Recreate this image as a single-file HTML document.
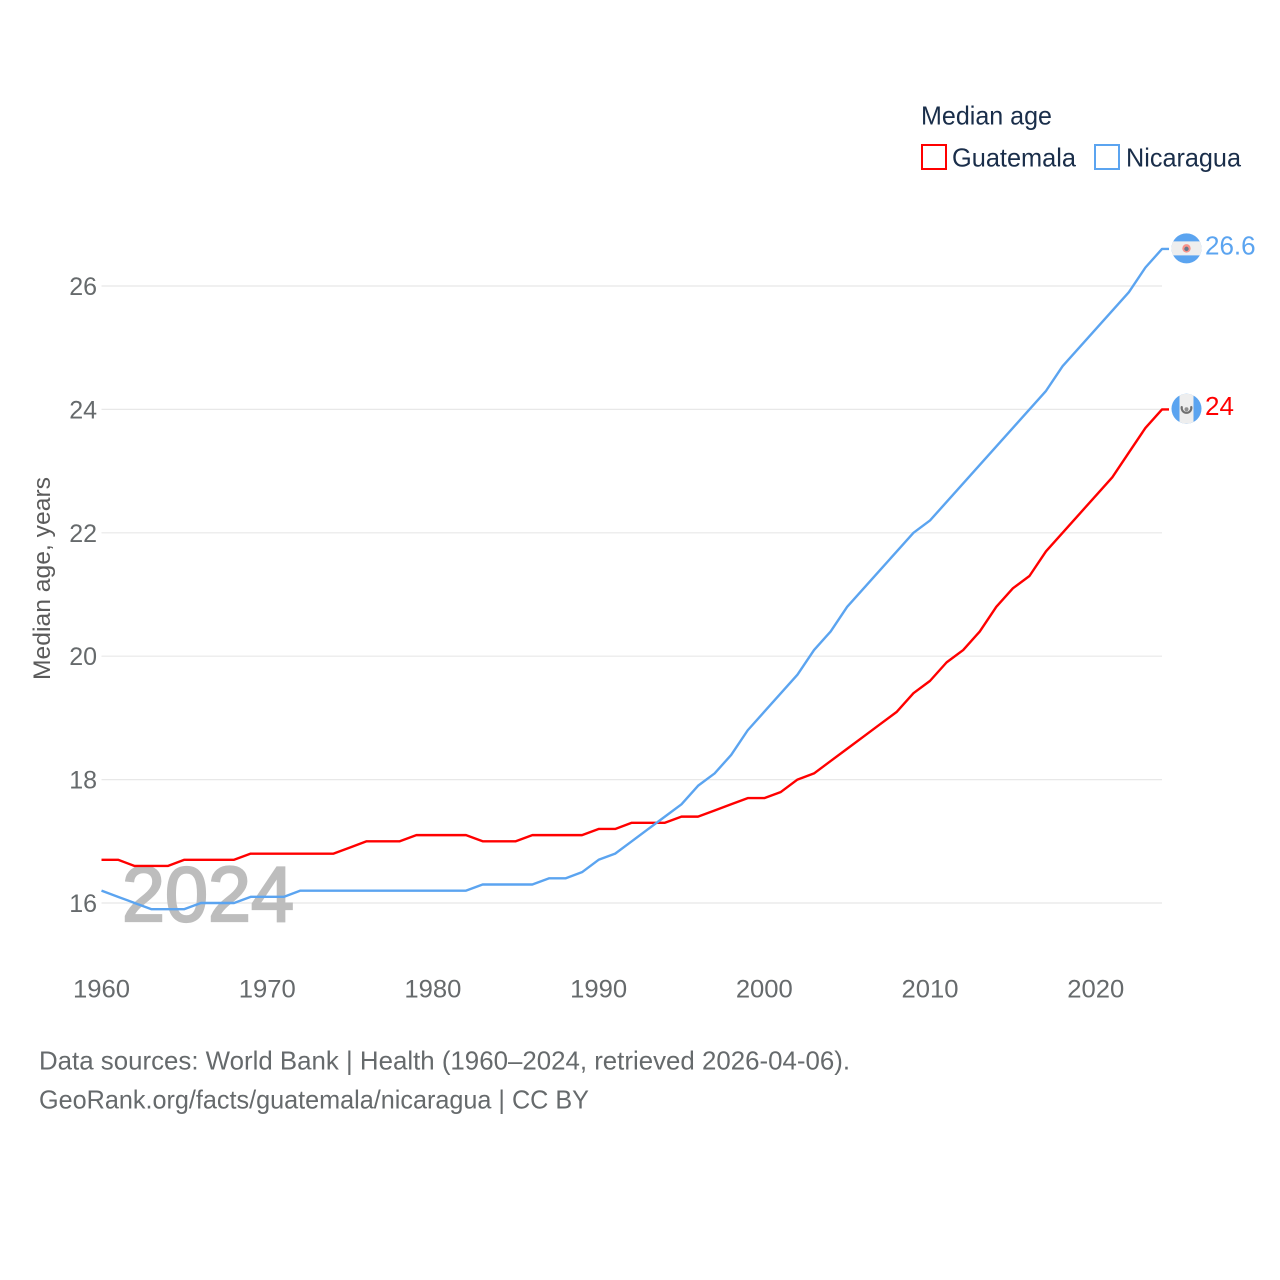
<!DOCTYPE html>
<html lang="en">
<head>
<meta charset="utf-8">
<title>Median age: Guatemala and Nicaragua</title>
<style>
html,body{margin:0;padding:0;background:#fff;}
svg{display:block;font-family:"Liberation Sans",sans-serif;}
</style>
</head>
<body>
<svg id="chart" xmlns="http://www.w3.org/2000/svg" width="1280" height="1280" viewBox="0 0 1280 1280">
  <rect x="0" y="0" width="1280" height="1280" fill="#ffffff"/>
  <g id="grid"></g>
  <text x="122" y="921" font-size="78" font-weight="400" fill="#bdbdbd" stroke="#bdbdbd" stroke-width="2.2" textLength="172" lengthAdjust="spacingAndGlyphs">2024</text>
  <g id="ylabels"></g>
  <g id="xlabels"></g>
  <text transform="translate(50 680) rotate(-90)" font-size="24" fill="#5b5b5b" textLength="203" lengthAdjust="spacingAndGlyphs">Median age, years</text>
  <g id="series"></g>

  <g>
    <text x="921" y="124.500" font-size="26" fill="#1a2e4a" textLength="131" lengthAdjust="spacingAndGlyphs">Median age</text>
    <g>
      <rect x="922" y="145" width="24" height="24" fill="#fff" stroke="#ff0000" stroke-width="2"/>
      <text x="952" y="166.500" font-size="26" fill="#1a2e4a" textLength="124" lengthAdjust="spacingAndGlyphs">Guatemala</text>
    </g>
    <g>
      <rect x="1095" y="145" width="24" height="24" fill="#fff" stroke="#5ba4f0" stroke-width="2"/>
      <text x="1126" y="166.500" font-size="26" fill="#1a2e4a" textLength="115" lengthAdjust="spacingAndGlyphs">Nicaragua</text>
    </g>
  </g>

  <g id="endmarks"></g>

  <text x="39" y="1069.500" font-size="26" fill="#666a6c" textLength="811" lengthAdjust="spacingAndGlyphs">Data sources: World Bank | Health (1960–2024, retrieved 2026-04-06).</text>
  <text x="39" y="1108.500" font-size="26" fill="#666a6c" textLength="550" lengthAdjust="spacingAndGlyphs">GeoRank.org/facts/guatemala/nicaragua | CC BY</text>
</svg>
<script>
const firstYear = 1960;
const lastYear = 2024;
const xTickLabels = [1960, 1970, 1980, 1990, 2000, 2010, 2020];
const yTickLabels = [16, 18, 20, 22, 24, 26];
const guatemalaValues = [16.7,16.7,16.6,16.6,16.6,16.7,16.7,16.7,16.7,16.8,16.8,16.8,16.8,16.8,16.8,16.9,17,17,17,17.1,17.1,17.1,17.1,17,17,17,17.1,17.1,17.1,17.1,17.2,17.2,17.3,17.3,17.3,17.4,17.4,17.5,17.6,17.7,17.7,17.8,18,18.1,18.3,18.5,18.7,18.9,19.1,19.4,19.6,19.9,20.1,20.4,20.8,21.1,21.3,21.7,22,22.3,22.6,22.9,23.3,23.7,24];
const nicaraguaValues = [16.2,16.1,16,15.9,15.9,15.9,16,16,16,16.1,16.1,16.1,16.2,16.2,16.2,16.2,16.2,16.2,16.2,16.2,16.2,16.2,16.2,16.3,16.3,16.3,16.3,16.4,16.4,16.5,16.7,16.8,17,17.2,17.4,17.6,17.9,18.1,18.4,18.8,19.1,19.4,19.7,20.1,20.4,20.8,21.1,21.4,21.7,22,22.2,22.5,22.8,23.1,23.4,23.7,24,24.3,24.7,25,25.3,25.6,25.9,26.3,26.6];

const NS = 'http://www.w3.org/2000/svg';
const plotLeft = 101.5, plotRight = 1162;
const y16 = 903, y26 = 286;
function xScale(year) { return plotLeft + (year - firstYear) * (plotRight - plotLeft) / (lastYear - firstYear); }
function yScale(v) { return y16 + (v - 16) * (y26 - y16) / 10; }
function make(tag, attrs, parent, text) {
  const el = document.createElementNS(NS, tag);
  for (const k in attrs) el.setAttribute(k, attrs[k]);
  if (text !== undefined) el.textContent = text;
  parent.appendChild(el);
  return el;
}

const grid = document.getElementById('grid');
const ylabels = document.getElementById('ylabels');
const xlabels = document.getElementById('xlabels');
const series = document.getElementById('series');
const endmarks = document.getElementById('endmarks');

yTickLabels.forEach(function (t) {
  const line = make('line', {x1: plotLeft, x2: plotRight, y1: yScale(t), y2: yScale(t), stroke: '#e8e8e8', 'stroke-width': 1.2}, grid);
  
  
  const label = make('text', {x: 97, y: yScale(t) + 9, 'text-anchor': 'end', 'font-size': 25, fill: '#666a6c'}, ylabels, String(t));
  
  
});

xTickLabels.forEach(function (t) {
  const label = make('text', {x: xScale(t), y: 997.5, 'text-anchor': 'middle', 'font-size': 25, fill: '#666a6c', textLength: 57, lengthAdjust: 'spacingAndGlyphs'}, xlabels, String(t));
  
  
});

function drawSeries(values, color, key) {
  const pts = values.map(function (v, i) { return xScale(firstYear + i).toFixed(2) + ',' + yScale(v).toFixed(2); });
  const lastY = yScale(values[values.length - 1]);
  pts.push((plotRight + 7) + ',' + lastY.toFixed(2));
  const line = make('polyline', {points: pts.join(' '), fill: 'none', stroke: color, 'stroke-width': 2.4, 'stroke-linejoin': 'round'}, series);
  
  
}
drawSeries(guatemalaValues, '#ff0000', 'guatemala');
drawSeries(nicaraguaValues, '#5ba4f0', 'nicaragua');

function drawEndMarker(value, color, key, kind) {
  const cy = yScale(value) - 0.6;
  const cx = 1186.5, r = 15;
  const flag = make('g', {}, endmarks);
  
  
  make('circle', {cx: cx, cy: cy, r: r, fill: '#5ba4f0'}, flag);
  const clipId = 'clip-' + key;
  const clip = make('clipPath', {id: clipId}, flag);
  make('circle', {cx: cx, cy: cy, r: r}, clip);
  if (kind === 'horizontal') {
    make('rect', {x: cx - r, y: cy - 7, width: 2 * r, height: 14, fill: '#eeeeee', 'clip-path': 'url(#' + clipId + ')'}, flag);
    make('circle', {cx: cx, cy: cy, r: 4.2, fill: '#f8938a'}, flag);
    make('circle', {cx: cx, cy: cy + 0.5, r: 2.2, fill: '#66788c'}, flag);
  } else {
    make('rect', {x: cx - 7, y: cy - r, width: 14, height: 2 * r, fill: '#eeeeee', 'clip-path': 'url(#' + clipId + ')'}, flag);
    make('path', {d: 'M' + (cx - 4.5) + ' ' + (cy - 2.5) + 'A4.8 4.8 0 1 0 ' + (cx + 4.5) + ' ' + (cy - 2.5), fill: 'none', stroke: '#707070', 'stroke-width': 2.2}, flag);
    make('circle', {cx: cx, cy: cy + 0.5, r: 2, fill: '#8f8f8f'}, flag);
  }
  const label = make('text', {x: 1205, y: cy + 6.2, 'font-size': 26, fill: color}, endmarks, String(value));
  
  
}
drawEndMarker(guatemalaValues[guatemalaValues.length - 1], '#ff0000', 'guatemala', 'vertical');
drawEndMarker(nicaraguaValues[nicaraguaValues.length - 1], '#5ba4f0', 'nicaragua', 'horizontal');
</script>
</body>
</html>
